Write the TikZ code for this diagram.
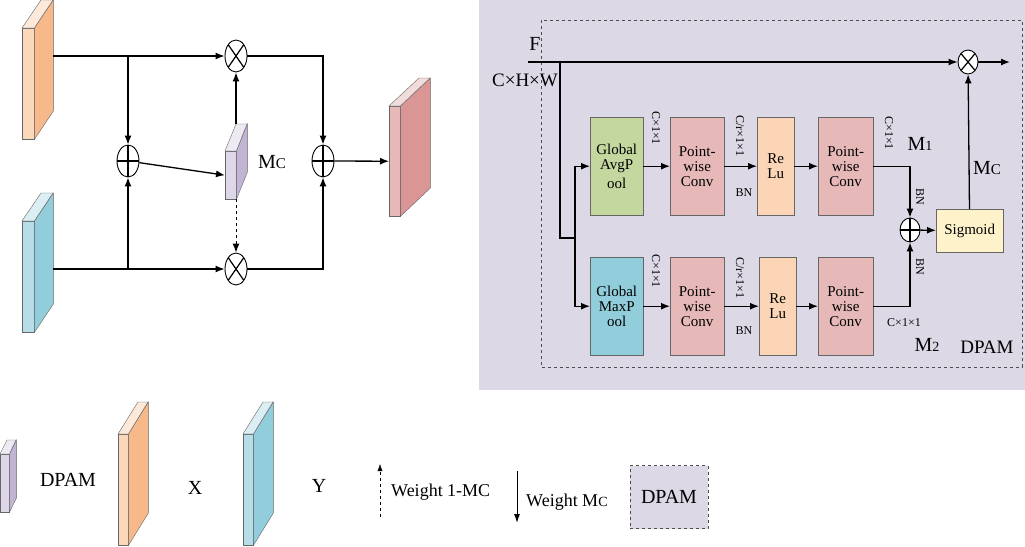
\documentclass[tikz,border=0pt]{standalone}
\usepackage{fontspec}
\setmainfont{Liberation Serif}
\usetikzlibrary{arrows.meta,shapes.geometric}
\definecolor{orF}{HTML}{FCD8BA}\definecolor{orS}{HTML}{F7B98A}\definecolor{orT}{HTML}{FDE9D9}
\definecolor{blF}{HTML}{B7DDE8}\definecolor{blS}{HTML}{92CDDC}\definecolor{blT}{HTML}{DAEEF3}
\definecolor{rdF}{HTML}{E6B9B8}\definecolor{rdS}{HTML}{D99694}\definecolor{rdT}{HTML}{F2DCDB}
\definecolor{puF}{HTML}{DDD7E8}\definecolor{puS}{HTML}{C2B5D3}\definecolor{puT}{HTML}{EEEAF3}
\definecolor{lav}{HTML}{DDD8E6}
\definecolor{gr}{HTML}{C4D79F}\definecolor{pk}{HTML}{E6B9B8}\definecolor{pe}{HTML}{FBD5B5}
\definecolor{cy}{HTML}{92CDDC}\definecolor{ye}{HTML}{FEF2CB}
\newcommand\fs[1]{\fontsize{#1}{#1}\selectfont}
\newcommand\myslab[9]{%
 \node[draw=black!60, fill=#7, minimum width=#3, minimum height=#4, inner sep=0, anchor=north west] (#1) at (#2) {};
 \filldraw[draw=black!60, fill=#8] (#1.north east) -- ++(#5,-#6) -- ++(0,#4) -- (#1.south east) -- cycle;
 \filldraw[draw=black!60, fill=#9] (#1.north west) -- ++(#5,-#6) -- ++(#3,0) -- (#1.north east) -- cycle;}
\tikzset{
 ot/.style={draw, ellipse, fill=white, inner sep=0, line width=0.9pt,
   path picture={\draw[line width=1.2pt] (path picture bounding box.north west)--(path picture bounding box.south east) (path picture bounding box.north east)--(path picture bounding box.south west);}},
 op/.style={draw, ellipse, fill=white, inner sep=0, line width=0.9pt,
   path picture={\draw[line width=1.2pt] (path picture bounding box.north)--(path picture bounding box.south) (path picture bounding box.west)--(path picture bounding box.east);}},
 big/.style={minimum width=22pt, minimum height=32pt},
 sml/.style={minimum width=20pt, minimum height=24pt},
 ar/.style={-{Latex[length=9pt,width=7pt]}, line width=1.3pt},
 ln/.style={line width=1.3pt},
 blk/.style={draw=black!60, inner sep=1pt, align=center, font=\fs{15}, anchor=north west},
 lab/.style={font=\fs{12}, inner sep=0},
}
\begin{document}
\begin{tikzpicture}[x=1pt,y=-1pt]
\useasboundingbox (0,0) rectangle (1025,546);
% ---------- left ----------
\myslab{X}{22,28}{12}{111}{19}{28}{orF}{orS}{orT}
\myslab{Y}{22,221}{12}{111}{19}{28}{blF}{blS}{blT}
\myslab{O}{389,106}{11}{110}{30}{28}{rdF}{rdS}{rdT}
\myslab{M}{225,151}{11}{48}{11}{27}{puF}{puS}{puT}
\node at (272,162) {\fs{20}M{\fs{15}C}};
\node[ot,big] (t1) at (236,56) {};
\node[ot,big] (t2) at (236,269) {};
\node[op,big] (p1) at (128,161) {};
\node[op,big] (p2) at (323,161) {};
\coordinate (xs) at (53,56); \coordinate (ys) at (53,269);
\coordinate (mt) at (236,124); \coordinate (mb) at (236,199);
\draw[ar] (xs) -- (t1);
\draw[ar] (ys) -- (t2);
\draw[ar] (128,56) -- (p1);
\draw[ar] (128,269) -- (p1);
\draw[ar] (p1) -- (M.west);
\draw[ar] (mt) -- (t1);
\draw[ar,dashed,line width=1pt] (mb) -- (t2);
\draw[ar] (t1) -| (p2);
\draw[ar] (t2) -| (p2);
\draw[ar] (p2) -- (O.west);
% ---------- right ----------
\fill[lav] (479,0) rectangle (1025,390);
\draw[dashed, black!70] (541,20) rectangle (1022,367);
\node at (535,44) {\fs{20}F};
\node at (525,80) {\fs{19}C×H×W};
\node[ot,sml] (t3) at (968,62) {};
\coordinate (fs) at (528,62);
\coordinate (fo) at (1010,62);
\draw[ar] (fs) -- (t3);
\draw[ar] (t3) -- (fo);
\node[blk,fill=gr,minimum width=53,minimum height=98] (g1) at (590,117) {Global\\AvgP\\[4pt]ool};
\node[blk,fill=pk,minimum width=54,minimum height=98] (c1) at (670,117) {Point-\\wise\\Conv};
\node[blk,fill=pe,minimum width=37,minimum height=98] (r1) at (757,117) {Re\\Lu};
\node[blk,fill=pk,minimum width=55,minimum height=98] (d1) at (818,117) {Point-\\wise\\Conv};
\node[blk,fill=cy,minimum width=53,minimum height=98] (g2) at (590,257) {Global\\MaxP\\ool};
\node[blk,fill=pk,minimum width=54,minimum height=98] (c2) at (670,257) {Point-\\wise\\Conv};
\node[blk,fill=pe,minimum width=37,minimum height=98] (r2) at (759,257) {Re\\Lu};
\node[blk,fill=pk,minimum width=55,minimum height=98] (d2) at (818,257) {Point-\\wise\\Conv};
\node[blk,fill=ye,minimum width=67,minimum height=43] (sg) at (936,209) {Sigmoid};
\node[op,sml] (p3) at (910,230) {};
\draw[ln] (560,62) -- (560,238) -- (575,238);
\draw[ar] (575,238) |- (g1.west);
\draw[ar] (575,238) |- (g2.west);
\foreach \a/\b in {g1/c1,c1/r1,r1/d1,g2/c2,c2/r2,r2/d2}{\draw[ar] (\a) -- (\b);}
\draw[ar] (d1) -| (p3);
\draw[ar] (d2) -| (p3);
\draw[ar] (p3) -- (sg);
\draw[ar] (sg) -- (t3);
\node[lab,rotate=-90] at (656,128) {C×1×1};
\node[lab,rotate=-90] at (656,271) {C×1×1};
\node[lab,rotate=-90] at (740,136) {C/r×1×1};
\node[lab,rotate=-90] at (740,278) {C/r×1×1};
\node[lab] at (744,193) {BN};
\node[lab] at (744,331) {BN};
\node[lab,rotate=-90] at (889,133) {C×1×1};
\node at (920,144) {\fs{20}M{\fs{14}1}};
\node[lab,rotate=-90] at (920,197) {BN};
\node[lab,rotate=-90] at (920,267) {BN};
\node[lab] at (904,323) {C×1×1};
\node at (927,345) {\fs{20}M{\fs{14}2}};
\node at (987,347) {\fs{19}DPAM};
\node at (987,168) {\fs{20}M{\fs{15}C}};
% ---------- legend ----------
\myslab{L1}{0,454}{9}{58}{7}{14}{puF}{puS}{puT}
\node at (68,480) {\fs{20}DPAM};
\myslab{L2}{118,434}{10}{111}{20}{32}{orF}{orS}{orT}
\node at (195,488) {\fs{20}X};
\myslab{L3}{243,434}{10}{111}{20}{32}{blF}{blS}{blT}
\node at (319,486) {\fs{20}Y};
\coordinate (da) at (380,517); \coordinate (db) at (380,464);
\draw[-{Latex[length=7pt,width=5pt]},dashed] (da) -- (db);
\node[anchor=west,inner sep=0] at (391,492) {\fs{18}Weight 1-MC};
\coordinate (sa) at (517,471); \coordinate (sb) at (517,523);
\draw[-{Latex[length=9pt,width=6pt]},line width=1pt] (sa) -- (sb);
\node[anchor=west,inner sep=0] at (526,502) {\fs{18}Weight M{\fs{14}C}};
\node[draw=black!70,dashed,fill=lav,minimum width=78,minimum height=63,font=\fs{20}] (lb) at (669,497) {DPAM};
\end{tikzpicture}
\end{document}
